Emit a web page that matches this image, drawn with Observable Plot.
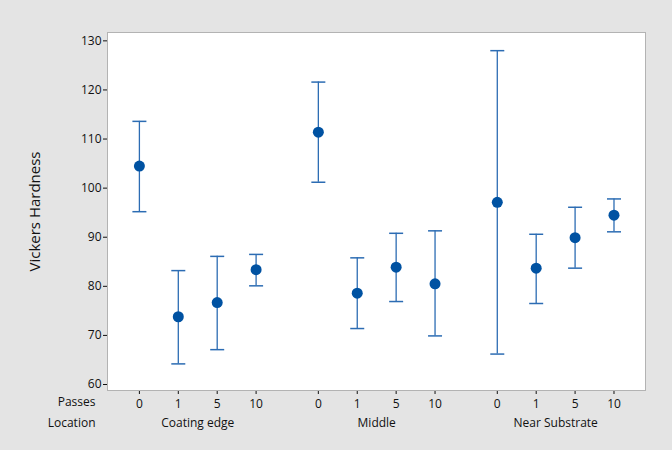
<!DOCTYPE html>
<html>
<head>
<meta charset="utf-8">
<script src="https://cdn.jsdelivr.net/npm/d3@7"></script>
<script src="https://cdn.jsdelivr.net/npm/@observablehq/plot@0.6"></script>
<style>
  html, body { margin: 0; padding: 0; background: #e4e4e4; }
  #chart { width: 672px; height: 450px; }
</style>
</head>
<body>
<div id="chart"></div>
<script>
// ---- data ----
const locations = ["Coating edge", "Middle", "Near Substrate"];
const passes = ["0", "1", "5", "10"];
const means = [
  [104.5, 73.8, 76.7, 83.4],
  [111.4, 78.6, 83.9, 80.5],
  [97.1, 83.7, 89.9, 94.5]
];
const upper = [
  [113.6, 83.2, 86.1, 86.5],
  [121.6, 85.8, 90.8, 91.3],
  [128.0, 90.6, 96.1, 97.8]
];
const lower = [
  [95.2, 64.2, 67.1, 80.1],
  [101.2, 71.4, 76.9, 69.9],
  [66.2, 76.5, 83.7, 91.1]
];
const yTicks = [60, 70, 80, 90, 100, 110, 120, 130];
const yLabel = "Vickers Hardness";
const rowLabels = ["Passes", "Location"];

// ---- layout helpers ----
const GROUP_STEP = 4.6;
const data = locations.flatMap((loc, gi) =>
  passes.map((p, pi) => ({
    loc, pass: p,
    x: gi * GROUP_STEP + pi,
    mean: means[gi][pi], lo: lower[gi][pi], hi: upper[gi][pi]
  }))
);
const groups = locations.map((loc, gi) => ({loc, x: gi * GROUP_STEP + (passes.length - 1) / 2}));
const passLabel = new Map(data.map(d => [d.x, d.pass]));

const barColor = "#2c6cb3";
const dotColor = "#0052a2";
const textColor = "#111111";
const cap = {
  draw(ctx, size) {
    const r = Math.sqrt(size / Math.PI);
    ctx.moveTo(-r, 0);
    ctx.lineTo(r, 0);
  }
};

const chart = Plot.plot({
  width: 672,
  height: 450,
  marginTop: 32,
  marginBottom: 60,
  marginLeft: 107,
  marginRight: 27,
  style: {
    background: "#e4e4e4",
    fontFamily: "'Open Sans', 'Noto Sans', sans-serif",
    fontSize: "12px",
    color: textColor
  },
  x: {
    type: "linear",
    domain: [-0.82, 2 * GROUP_STEP + 3 + 0.81],
    ticks: data.map(d => d.x),
    tickFormat: d => passLabel.get(d) ?? "",
    tickSize: 4,
    tickPadding: 5,
    label: null
  },
  y: {
    domain: [58.78, 131.7],
    ticks: yTicks,
    tickSize: 4,
    tickPadding: 2,
    label: null
  },
  marks: [
    Plot.frame({fill: "white", stroke: "#b3b3b3"}),
    Plot.ruleX(data, {x: "x", y1: "lo", y2: "hi", stroke: barColor, strokeWidth: 1.3}),
    Plot.dot(data, {x: "x", y: "hi", symbol: cap, r: 7, stroke: barColor, strokeWidth: 1.5, fill: "none"}),
    Plot.dot(data, {x: "x", y: "lo", symbol: cap, r: 7, stroke: barColor, strokeWidth: 1.5, fill: "none"}),
    Plot.dot(data, {x: "x", y: "mean", r: 5.5, fill: dotColor, stroke: "none"}),
    Plot.text(groups, {x: "x", text: "loc", frameAnchor: "bottom", dy: 36, fontSize: 12, fill: textColor}),
    Plot.text([rowLabels[0]], {text: d => d, frameAnchor: "bottom-left", dx: -12, dy: 15, textAnchor: "end", fontSize: 12, fill: textColor}),
    Plot.text([rowLabels[1]], {text: d => d, frameAnchor: "bottom-left", dx: -12, dy: 36, textAnchor: "end", fontSize: 12, fill: textColor}),
    Plot.text([yLabel], {text: d => d, frameAnchor: "left", dx: -72, rotate: -90, textAnchor: "middle", fontSize: 15, fill: textColor})
  ]
});
document.getElementById("chart").appendChild(chart);
</script>
</body>
</html>
